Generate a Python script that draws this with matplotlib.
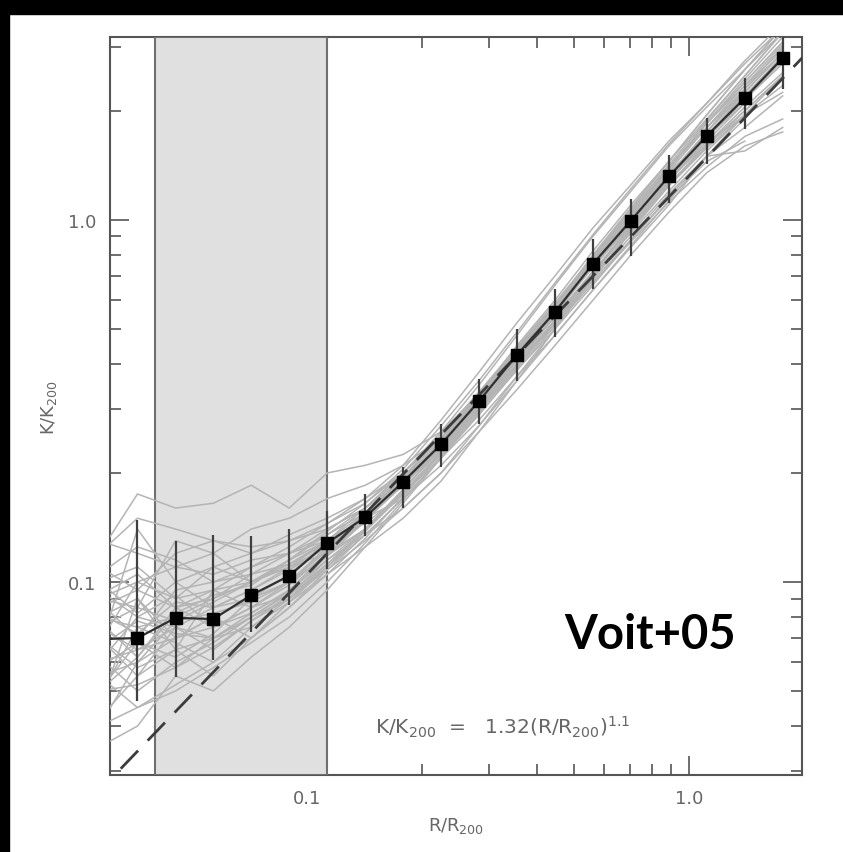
import numpy as np
import matplotlib.pyplot as plt
from matplotlib.patches import Rectangle
from matplotlib.ticker import FixedLocator, NullFormatter, FixedFormatter

plt.rcParams['mathtext.default'] = 'regular'
plt.rcParams['font.family'] = ['DejaVu Sans']

# radial bins R/R200
r_bins = [0.0286, 0.0360, 0.0453, 0.0569, 0.0715, 0.0899, 0.1130, 0.1421, 0.1787,
          0.2246, 0.2824, 0.3550, 0.4463, 0.5611, 0.7054, 0.8868, 1.115, 1.402, 1.762]

# mean profile and error bar limits
k_mean = [0.0695, 0.070, 0.0796, 0.079, 0.092, 0.104, 0.128, 0.151, 0.189, 0.240,
          0.316, 0.424, 0.557, 0.756, 0.995, 1.318, 1.706, 2.17, 2.80]
k_low = [np.nan, 0.0469, 0.0547, 0.0609, 0.0727, 0.0864, 0.1086, 0.134, 0.160, 0.208,
         0.273, 0.359, 0.475, 0.645, 0.796, 1.114, 1.428, 1.78, 2.30]
k_high = [np.nan, 0.148, 0.130, 0.135, 0.134, 0.140, 0.157, 0.175, 0.208, 0.273,
          0.364, 0.500, 0.645, 0.886, 1.144, 1.512, 1.913, 2.47, 3.30]

# individual cluster profiles
clusters = [
    [0.12, 0.175, 0.160, 0.165, 0.185, 0.160, 0.200, 0.210, 0.225, 0.26, 0.33, 0.44, 0.58, 0.78, 1.05, 1.40, 1.80, 2.30, 2.90],
    [0.06, 0.065, 0.075, 0.085, 0.095, 0.11, 0.13, 0.16, 0.20, 0.25, 0.33, 0.45, 0.60, 0.82, 1.10, 1.45, 1.90, 2.50, 3.3],
    [0.05, 0.052, 0.058, 0.066, 0.078, 0.092, 0.115, 0.135, 0.16, 0.2, 0.27, 0.37, 0.5, 0.69, 0.94, 1.25, 1.6, 2.0, 2.5],
    [0.09, 0.10, 0.11, 0.105, 0.115, 0.12, 0.135, 0.155, 0.19, 0.24, 0.30, 0.40, 0.52, 0.70, 0.92, 1.20, 1.55, 1.95],
    [0.04, 0.045, 0.052, 0.06, 0.07, 0.085, 0.105, 0.125, 0.15, 0.19, 0.26, 0.36, 0.5, 0.7, 0.97, 1.3, 1.75, 2.3, 3.0],
    [0.075, 0.085, 0.13, 0.12, 0.10, 0.11, 0.125, 0.15, 0.185, 0.235, 0.32, 0.43, 0.57, 0.76, 1.00, 1.35, 1.70, 2.1],
    [0.10, 0.11, 0.09, 0.095, 0.10, 0.11, 0.12, 0.14, 0.175, 0.225, 0.29, 0.39, 0.52, 0.69, 0.90, 1.18, 1.50, 1.80, 2.2],
    [0.055, 0.06, 0.07, 0.075, 0.085, 0.098, 0.12, 0.148, 0.19, 0.245, 0.325, 0.44, 0.58, 0.80, 1.08, 1.45, 1.95, 2.6, 3.4],
    [0.08, 0.075, 0.08, 0.09, 0.105, 0.12, 0.14, 0.16, 0.195, 0.24, 0.305, 0.40, 0.52, 0.68, 0.88, 1.15, 1.45, 1.65],
    [0.045, 0.09, 0.07, 0.08, 0.09, 0.10, 0.118, 0.14, 0.175, 0.23, 0.305, 0.415, 0.56, 0.77, 1.02, 1.38, 1.85, 2.4, 3.1],
    [0.065, 0.14, 0.10, 0.085, 0.09, 0.105, 0.13, 0.155, 0.195, 0.25, 0.33, 0.435, 0.57, 0.74, 0.97, 1.25, 1.60, 2.0, 2.5],
    [0.035, 0.04, 0.055, 0.05, 0.062, 0.075, 0.095, 0.125, 0.165, 0.22, 0.295, 0.40, 0.545, 0.75, 1.02, 1.38, 1.85, 2.45, 3.2],
    [0.085, 0.095, 0.085, 0.075, 0.082, 0.095, 0.115, 0.14, 0.18, 0.235, 0.31, 0.42, 0.56, 0.76, 1.01, 1.32, 1.70, 2.15, 2.7],
    [0.11, 0.095, 0.12, 0.13, 0.125, 0.13, 0.14, 0.16, 0.19, 0.235, 0.30, 0.385, 0.50, 0.66, 0.88, 1.16, 1.50, 1.90],
    [0.058, 0.068, 0.062, 0.072, 0.09, 0.1, 0.122, 0.15, 0.19, 0.245, 0.32, 0.43, 0.57, 0.78, 1.05, 1.40, 1.85, 2.35, 2.95],
    [0.07, 0.058, 0.065, 0.095, 0.085, 0.092, 0.11, 0.138, 0.175, 0.225, 0.30, 0.395, 0.525, 0.71, 0.95, 1.25, 1.62, 2.05, 2.55],
    [0.095, 0.08, 0.075, 0.07, 0.08, 0.093, 0.112, 0.138, 0.18, 0.235, 0.315, 0.425, 0.57, 0.77, 1.04, 1.40, 1.80, 2.25],
    [0.05, 0.062, 0.085, 0.09, 0.1, 0.115, 0.135, 0.16, 0.2, 0.255, 0.335, 0.445, 0.59, 0.79, 1.06, 1.42, 1.88, 2.5, 3.3],
    [0.13, 0.12, 0.11, 0.12, 0.14, 0.15, 0.17, 0.185, 0.21, 0.25, 0.31, 0.40, 0.51, 0.67, 0.87, 1.12, 1.40, 1.70, 1.9],
    [0.062, 0.05, 0.06, 0.068, 0.08, 0.094, 0.118, 0.147, 0.188, 0.24, 0.315, 0.42, 0.555, 0.75, 0.99, 1.30, 1.68, 2.15, 2.75],
    [0.042, 0.055, 0.065, 0.055, 0.07, 0.088, 0.11, 0.14, 0.18, 0.232, 0.31, 0.415, 0.55, 0.745, 1.0, 1.33, 1.75, 2.25, 2.9],
    [0.088, 0.07, 0.095, 0.1, 0.11, 0.125, 0.145, 0.17, 0.21, 0.28, 0.38, 0.52, 0.70, 0.95, 1.25, 1.65, 2.1, 2.7, 3.4],
    [0.075, 0.065, 0.07, 0.08, 0.07, 0.085, 0.108, 0.135, 0.17, 0.22, 0.29, 0.385, 0.51, 0.69, 0.93, 1.24, 1.58, 1.95, 2.35],
    [0.1, 0.082, 0.1, 0.11, 0.12, 0.135, 0.15, 0.17, 0.2, 0.25, 0.325, 0.43, 0.565, 0.76, 1.0, 1.33, 1.72, 2.2, 2.8],
    [0.048, 0.075, 0.068, 0.06, 0.075, 0.09, 0.112, 0.14, 0.177, 0.228, 0.30, 0.40, 0.53, 0.72, 0.96, 1.28, 1.68, 2.2, 2.85],
    [0.068, 0.1, 0.09, 0.11, 0.1, 0.115, 0.13, 0.15, 0.185, 0.24, 0.32, 0.43, 0.58, 0.79, 1.07, 1.45, 1.95, 2.6, 3.4],
    [0.055, 0.045, 0.05, 0.058, 0.068, 0.08, 0.1, 0.128, 0.168, 0.222, 0.3, 0.41, 0.555, 0.76, 1.03, 1.39, 1.85, 2.4, 3.1],
    [0.08, 0.09, 0.065, 0.07, 0.075, 0.088, 0.105, 0.132, 0.172, 0.228, 0.305, 0.41, 0.54, 0.72, 0.95, 1.25, 1.62, 2.0],
    [0.12, 0.15, 0.14, 0.13, 0.12, 0.13, 0.145, 0.165, 0.2, 0.26, 0.35, 0.48, 0.66, 0.9, 1.2, 1.6, 2.05, 2.6, 3.3],
    [0.04, 0.06, 0.078, 0.082, 0.088, 0.1, 0.125, 0.155, 0.195, 0.25, 0.33, 0.44, 0.58, 0.77, 1.0, 1.30, 1.62, 1.95, 2.25],
    [0.092, 0.105, 0.085, 0.095, 0.11, 0.12, 0.13, 0.145, 0.175, 0.22, 0.28, 0.37, 0.48, 0.64, 0.85, 1.13, 1.50, 1.95, 2.5],
    [0.06, 0.08, 0.092, 0.075, 0.085, 0.1, 0.123, 0.152, 0.192, 0.246, 0.322, 0.43, 0.565, 0.76, 1.0, 1.33, 1.75, 2.3, 3.0],
    [0.07, 0.055, 0.075, 0.065, 0.078, 0.09, 0.11, 0.135, 0.17, 0.22, 0.295, 0.395, 0.53, 0.71, 0.95, 1.27, 1.70, 2.25, 2.9],
    [0.105, 0.125, 0.115, 0.1, 0.105, 0.112, 0.128, 0.15, 0.188, 0.24, 0.31, 0.41, 0.54, 0.72, 0.96, 1.28, 1.65, 2.1],
    [0.05, 0.068, 0.058, 0.07, 0.082, 0.095, 0.12, 0.15, 0.19, 0.244, 0.32, 0.425, 0.565, 0.765, 1.02, 1.36, 1.80, 2.35, 3.05],
    [0.082, 0.072, 0.088, 0.085, 0.095, 0.108, 0.125, 0.148, 0.185, 0.235, 0.31, 0.415, 0.55, 0.74, 0.98, 1.30, 1.70, 2.2, 2.8],
    [0.066, 0.078, 0.072, 0.07, 0.08, 0.09, 0.108, 0.13, 0.16, 0.2, 0.26, 0.34, 0.45, 0.6, 0.8, 1.05, 1.35, 1.6, 1.75],
    [0.09, 0.085, 0.078, 0.088, 0.1, 0.112, 0.13, 0.15, 0.17, 0.21, 0.27, 0.36, 0.48, 0.64, 0.84, 1.1, 1.5, 1.55, 1.8],
    [0.078, 0.062, 0.082, 0.092, 0.098, 0.115, 0.138, 0.165, 0.205, 0.27, 0.36, 0.49, 0.67, 0.91, 1.22, 1.62, 2.1, 2.75, 3.5],
]

# fit K/K200 = 1.32 (R/R200)^1.1
fit_norm = 1.32
fit_slope = 1.1
shade_lo, shade_hi = 0.04, 0.113

fig = plt.figure(figsize=(8.43, 8.53), dpi=100)
ax = fig.add_axes([110/843, 77/853, 692/843, 738/853])

ax.axvspan(shade_lo, shade_hi, facecolor='#e0e0e0', edgecolor='#707070', lw=1.5, zorder=2.6)

for prof in clusters:
    ax.plot(r_bins[:len(prof)], prof, color='#b4b4b4', lw=1.1, zorder=3)

xf = np.array([0.02, 2.5])
ax.plot(xf, fit_norm * xf**fit_slope, color='#3c3c3c', lw=2, dashes=(9, 5), zorder=4)

r = np.array(r_bins)
m = np.array(k_mean)
lo = np.array(k_low)
hi = np.array(k_high)
ax.vlines(r, lo, hi, color='#404040', lw=1.6, zorder=5)
ax.plot(r, m, color='#303030', lw=1.6, zorder=5)
ax.plot(r[1:], m[1:], ls='none', marker='s', ms=8, color='black', zorder=6)

ax.set_xscale('log')
ax.set_yscale('log')
ax.set_xlim(0.0305, 1.98)
ax.set_ylim(0.0293, 3.2)

for a in (ax.xaxis, ax.yaxis):
    a.set_major_locator(FixedLocator([0.1, 1.0]))
    a.set_major_formatter(FixedFormatter(['0.1', '1.0']))
    a.set_minor_formatter(NullFormatter())
ax.xaxis.set_minor_locator(FixedLocator([0.04, 0.05, 0.06, 0.07, 0.08, 0.09,
                                         0.2, 0.3, 0.4, 0.5, 0.6, 0.7, 0.8, 0.9]))
ax.yaxis.set_minor_locator(FixedLocator([0.03, 0.04, 0.05, 0.06, 0.07, 0.08, 0.09,
                                         0.2, 0.3, 0.4, 0.5, 0.6, 0.7, 0.8, 0.9, 2.0, 3.0]))
ax.tick_params(which='both', direction='in', top=True, right=True, color='#555555', width=1.2)
ax.tick_params(which='major', length=14, labelsize=13, labelcolor='#666666', pad=10)
ax.tick_params(which='minor', length=8)
for s in ax.spines.values():
    s.set_color('#555555')
    s.set_linewidth(1.5)

ax.set_xlabel('R/R$_{200}$', fontsize=13, color='#666666', labelpad=6)
ax.set_ylabel('K/K$_{200}$', fontsize=13, color='#666666', labelpad=6)

ax.text(0.383, 0.066, 'K/K$_{200}$  =   1.32(R/R$_{200}$)$^{1.1}$', transform=ax.transAxes,
        fontsize=14.5, color='#666666', va='center', zorder=7)
ax.text(0.78, 0.172, 'Voit+05', transform=ax.transAxes, fontsize=34, fontweight='bold',
        family=['Lato', 'DejaVu Sans'], ha='center', va='baseline', color='black', zorder=7)

# black frame at top and left of the image
fig.patches.append(Rectangle((0, 1 - 15/853), 1, 15/853, transform=fig.transFigure,
                             color='black', zorder=10))
fig.patches.append(Rectangle((0, 0), 9/843, 1, transform=fig.transFigure,
                             color='black', zorder=10))

fig.savefig('out.png', dpi=100)
